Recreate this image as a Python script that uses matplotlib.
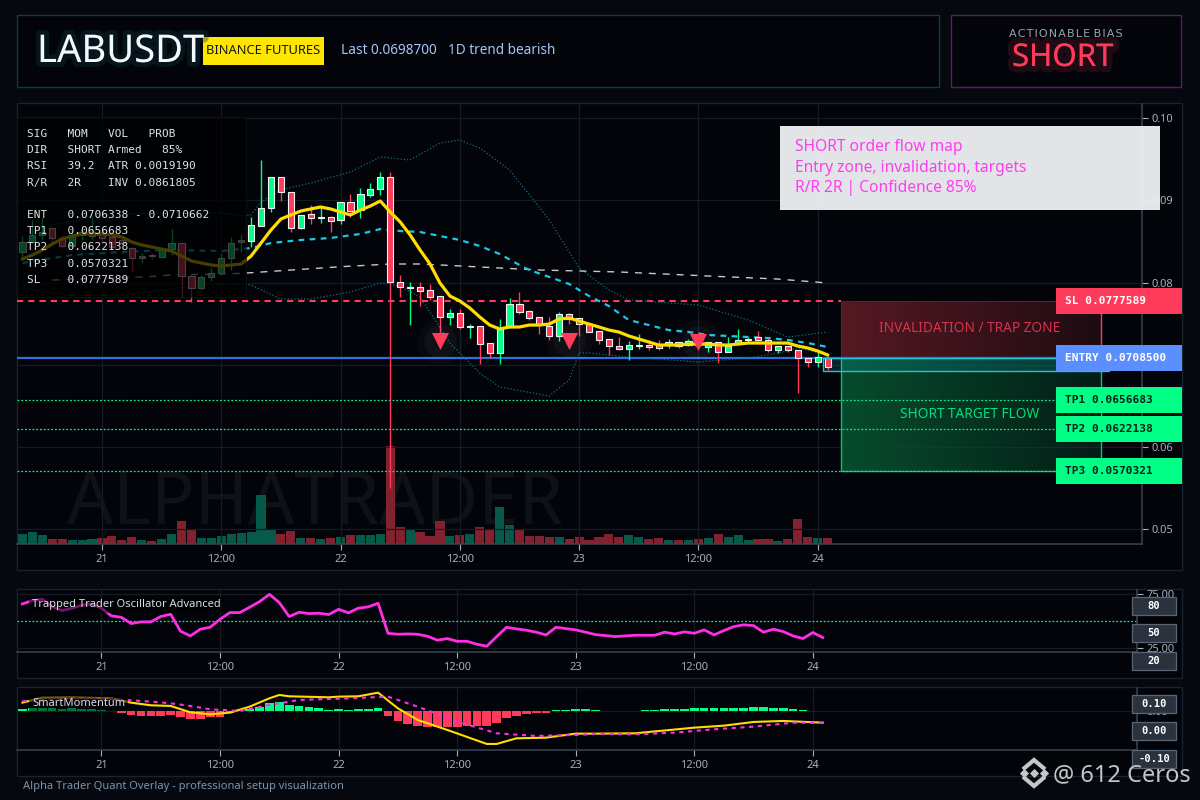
import numpy as np
import matplotlib
matplotlib.use("Agg")
import matplotlib.pyplot as plt
import matplotlib.patheffects as pe
from matplotlib.patches import Rectangle

# Hourly candles, one value per bar
opens = [.08371,.08492,.08578,.08663,.08541,.08444,.08578,.08565,.08590,.08553,
         .08517,.08419,.08298,.08334,.08310,.08407,.08480,.08079,.07933,.08067,
         .08116,.08298,.08492,.08505,.08687,.08906,.09283,.09100,.08663,.08833,
         .08784,.08796,.08760,.08979,.08881,.09064,.09137,.09283,.08006,.07933,
         .07945,.07909,.07836,.07581,.07629,.07459,.07471,.07264,.07143,.07471,
         .07739,.07654,.07581,.07471,.07350,.07617,.07568,.07495,.07410,.07313,
         .07228,.07192,.07228,.07240,.07240,.07240,.07277,.07240,.07277,.07216,
         .07277,.07155,.07252,.07301,.07337,.07301,.07179,.07228,.07179,.07082,
         .07034,.07082]
highs = [.08565,.08760,.08784,.08675,.08578,.08687,.08687,.08796,.08663,.08602,
         .08578,.08432,.08359,.08359,.08419,.08650,.08480,.08116,.08091,.08176,
         .08359,.08553,.08590,.08796,.09489,.09283,.09283,.09100,.08821,.08942,
         .08918,.08809,.08979,.09076,.09149,.09210,.09343,.09343,.08091,.08006,
         .08006,.07982,.07836,.07678,.07678,.07495,.07471,.07264,.07556,.07812,
         .07885,.07666,.07581,.07581,.07641,.07629,.07568,.07495,.07410,.07313,
         .07337,.07289,.07374,.07301,.07301,.07313,.07277,.07313,.07301,.07277,
         .07277,.07337,.07435,.07337,.07410,.07325,.07228,.07228,.07179,.07082,
         .07155,.07082]
lows = [.08310,.08480,.08517,.08492,.08419,.08419,.08517,.08517,.08492,.08419,
        .08432,.08140,.08237,.08286,.08310,.08334,.07824,.07763,.07909,.08018,
        .08091,.08152,.08371,.08432,.08687,.08857,.08991,.08614,.08650,.08711,
        .08723,.08614,.08711,.08796,.08784,.09040,.09064,.05502,.07824,.07483,
        .07714,.07787,.07386,.07483,.07435,.07325,.07009,.07082,.07009,.07447,
        .07617,.07544,.07374,.07301,.07289,.07495,.07350,.07398,.07252,.07119,
        .07179,.07058,.07192,.07179,.07179,.07204,.07204,.07228,.07216,.07155,
        .07021,.07155,.07240,.07264,.07277,.07155,.07143,.07155,.06657,.06973,
        .06973,.06936]
closes = [.08492,.08578,.08614,.08541,.08444,.08578,.08614,.08614,.08541,.08432,
          .08480,.08298,.08322,.08322,.08407,.08480,.08079,.07933,.08067,.08116,
          .08298,.08480,.08517,.08699,.08906,.09283,.09100,.08663,.08821,.08784,
          .08796,.08748,.08979,.08869,.09076,.09137,.09283,.08006,.07945,.07945,
          .07897,.07824,.07581,.07629,.07459,.07471,.07252,.07143,.07447,.07739,
          .07641,.07568,.07483,.07350,.07617,.07556,.07495,.07398,.07301,.07228,
          .07192,.07240,.07240,.07216,.07204,.07277,.07228,.07289,.07240,.07277,
          .07155,.07228,.07301,.07313,.07301,.07179,.07228,.07179,.07082,.07034,
          .07094,.06973]
volumes = [10.3,12.3,9.3,5.3,5.3,4.3,4.3,5.3,6.3,8.3,4.3,7.3,4.3,3.3,5.3,10.3,23.3,14.3,6.3,6.3,
           8.3,10.3,11.3,12.3,49.3,14.3,10.3,13.3,6.3,6.3,5.3,6.3,7.3,9.3,9.3,9.3,10.3,97.7,17.3,15.3,
           12.3,8.3,23.3,8.3,9.3,10.3,17.3,15.3,37.3,19.3,14.3,8.3,8.3,7.3,7.3,5.3,7.3,4.3,7.3,10.3,
           7.3,9.3,7.3,5.3,6.3,4.3,4.3,4.3,5.3,6.3,10.3,7.3,9.3,4.3,5.3,5.3,3.3,5.3,25.3,7.3,6.3,6.3]
ema = [.08286,.08334,.08395,.08468,.08529,.08565,.08590,.08590,.08590,.08578,
       .08553,.08492,.08456,.08432,.08407,.08383,.08322,.08261,.08237,.08213,
       .08201,.08213,.08225,.08322,.08480,.08638,.08772,.08821,.08869,.08894,
       .08918,.08894,.08857,.08821,.08881,.08930,.08991,.08857,.08736,.08578,
       .08395,.08225,.07994,.07836,.07775,.07690,.07581,.07483,.07435,.07459,
       .07459,.07483,.07483,.07495,.07556,.07568,.07532,.07495,.07459,.07422,
       .07398,.07350,.07313,.07277,.07240,.07240,.07240,.07252,.07252,.07252,
       .07240,.07240,.07252,.07264,.07264,.07264,.07264,.07264,.07228,.07204,
       .07167,.07119]

# Bands and slow average, read at the bars where they bend
bb_mid_idx = [0,5,10,15,20,22,23,25,28,31,34,36,37,38,40,42,44,46,48,50,51,53,55,57,59,61,63,65,67,69,71,73,75,77,79,81]
bb_mid = [.08237,.08334,.08371,.08395,.08383,.08407,.08419,.08480,.08517,.08541,.08590,.08650,.08638,.08626,
          .08614,.08565,.08517,.08444,.08347,.08213,.08152,.08067,.07982,.07836,.07714,.07544,.07483,.07422,
          .07398,.07362,.07350,.07337,.07325,.07301,.07264,.07216]
bb_up_idx = [1,3,8,14,20,22,23,24,26,29,33,36,39,42,44,46,49,53,56,59,61,68,73,77,81]
bb_up = [.08602,.08699,.08821,.08845,.08845,.08809,.08821,.08979,.09125,.09210,.09343,.09526,.09489,.09696,
         .09733,.09635,.09368,.08760,.08176,.07909,.07787,.07726,.07544,.07337,.07398]
bb_lo_idx = [0,5,10,15,19,23,26,29,33,36,38,40,43,46,48,53,55,56,57,61,68,73,76,78,81]
bb_lo = [.07933,.07836,.07848,.07921,.07982,.07970,.07799,.07799,.07885,.07994,.07957,.07824,.07264,.06900,
         .06730,.06620,.06815,.07143,.07143,.07094,.07034,.07082,.07143,.07204,.07119]
slow_idx = [3,12,15,22,23,32,37,40,44,52,60,69,76,81]
slow_ma = [.08030,.08067,.08091,.08111,.08119,.08192,.08225,.08225,.08201,.08152,.08128,.08079,.08042,.07994]

signal_idx = [42, 55, 68]
signal_price = [.07290, .07290, .07280]

# Levels
sl_price = 0.0777589
entry_price = 0.0708500
entry_low = 0.06924
tp_prices = [0.0656683, 0.0622138, 0.0570321]

# Oscillator
osc = [65.5,68.6,69.8,63.1,59.4,61.6,64.3,65.5,61.6,54.6,53.3,47.6,49.1,49.1,54.0,56.1,40.6,36.3,42.4,44.2,
       51.5,57.6,57.6,62.5,67.6,74.3,66.7,54.0,57.9,56.7,57.0,55.8,60.6,57.3,61.6,62.8,66.1,38.7,37.8,38.1,
       37.8,36.0,32.4,33.9,31.4,31.4,28.7,26.9,35.7,44.2,42.7,41.5,39.7,37.2,44.2,43.0,41.8,39.7,37.5,36.6,
       35.7,36.3,36.9,36.9,36.9,39.7,38.1,40.0,38.7,41.8,37.2,41.2,44.8,46.4,45.7,39.7,42.4,40.3,36.3,33.9,
       39.4,34.8]

# SmartMomentum
hist = [.0053,.0060,.0060,.0060,.0047,.0060,.0053,.0047,.0020,.0007,-.0027,-.0080,-.0087,-.0087,-.0087,-.0073,
        -.0120,-.0153,-.0153,-.0120,-.0107,-.0027,.0013,.0053,.0093,.0167,.0187,.0127,.0107,.0087,.0067,.0027,
        .0040,.0020,.0040,.0047,.0067,-.0087,-.0193,-.0253,-.0293,-.0307,-.0307,-.0313,-.0313,-.0300,-.0293,-.0287,
        -.0233,-.0133,-.0087,-.0053,-.0033,-.0033,.0020,.0027,.0040,.0040,.0033,.0013,.0007,.0007,.0007,.0020,
        .0027,.0040,.0047,.0047,.0067,.0067,.0067,.0067,.0067,.0067,.0087,.0087,.0067,.0060,.0040,.0027,.0007,.0]
mom_idx = [0,2,5,9,11,13,15,17,19,21,23,25,26,27,31,32,34,36,38,40,43,47,48,50,53,56,58,62,68,71,74,77,81]
mom = [.0173,.0273,.0280,.0260,.0173,.0120,.0107,-.0020,-.0060,-.0027,.0093,.0260,.0327,.0300,.0280,.0293,.0300,
       .0373,.0060,-.0173,-.0373,-.0653,-.0653,-.0540,-.0527,-.0447,-.0447,-.0440,-.0327,-.0287,-.0213,-.0193,-.0227]
mom_sig_idx = [0,5,9,13,15,17,19,22,25,28,33,37,40,44,48,52,56,58,62,66,70,74,78,81]
mom_sig = [.0200,.0267,.0247,.0193,.0160,.0107,.0040,.0007,.0127,.0227,.0260,.0293,.0093,-.0207,-.0440,-.0493,
           -.0473,-.0453,-.0460,-.0427,-.0360,-.0307,-.0227,-.0233]

# Axis ticks
x_tick_idx = [8, 20, 32, 44, 56, 68, 80]
x_tick_labels = ["21", "12:00", "22", "12:00", "23", "12:00", "24"]
price_ticks = [0.10, 0.09, 0.08, 0.07, 0.06, 0.05]

panel_lines = ["SIG   MOM   VOL   PROB",
               "DIR   SHORT Armed   85%",
               "RSI   39.2  ATR 0.0019190",
               "R/R   2R    INV 0.0861805",
               "",
               "ENT   0.0706338 - 0.0710662",
               "TP1   0.0656683",
               "TP2   0.0622138",
               "TP3   0.0570321",
               "SL    0.0777589"]
tag_names = ["SL", "ENTRY", "TP1", "TP2", "TP3"]
note_lines = ["SHORT order flow map", "Entry zone, invalidation, targets", "R/R 2R | Confidence 85%"]

GREEN = "#00ff85"
RED = "#ff3b5c"
BLUE = "#5b8eff"
YELLOW = "#ffdd00"
MAGENTA = "#ff2ee6"
GRID = "#141b22"
SPINE = "#3a4654"
TICK = "#a6afba"
BG = "#05080e"
INNER = "#02040a"
SANS = "Noto Sans"
MONO = "DejaVu Sans Mono"

plt.rcParams["font.family"] = SANS
fig = plt.figure(figsize=(12, 8), dpi=100, facecolor=BG)


def px_axes(left, top, right, bottom, **kw):
    return fig.add_axes([left / 1200, 1 - bottom / 800, (right - left) / 1200, (bottom - top) / 800], **kw)


def overlay(z):
    a = px_axes(0, 0, 1200, 800, zorder=z)
    a.set_xlim(0, 1200)
    a.set_ylim(800, 0)
    a.axis("off")
    return a


def box(a, x0, y0, x1, y1, **kw):
    a.add_patch(Rectangle((x0, y0), x1 - x0, y1 - y0, **kw))


def style_axes(a, tick_idx, tick_labels):
    a.set_facecolor("none")
    a.set_xticks(tick_idx)
    a.set_xticklabels(tick_labels)
    a.grid(True, color=GRID, lw=0.9)
    a.set_axisbelow(True)
    a.yaxis.tick_right()
    a.tick_params(colors=TICK, labelsize=8, length=4, width=0.8, pad=3)
    for s in ["top", "left"]:
        a.spines[s].set_visible(False)
    for s in ["right", "bottom"]:
        a.spines[s].set_color(SPINE)
        a.spines[s].set_linewidth(1.1)


# ---------------------------------------------------------
# Background frames
# ---------------------------------------------------------
bg = overlay(0)
box(bg, 17, 15, 939, 87, fc=INNER, ec="#0d3c49", lw=1)
box(bg, 951, 15, 1181, 87, fc=INNER, ec="#5d1a68", lw=1)
box(bg, 17, 103, 1182, 570, fc=INNER, ec="#18232d", lw=1)
box(bg, 17, 589, 1182, 678, fc=INNER, ec="#18232d", lw=1)
box(bg, 17, 687, 1182, 776, fc=INNER, ec="#18232d", lw=1)

# ---------------------------------------------------------
# Main chart
# ---------------------------------------------------------
n = len(closes)
bars = np.arange(n)
bar_up = np.array(closes) >= np.array(opens)

ax_vol = px_axes(17, 104, 1142, 544, zorder=1)
ax_vol.set_xlim(-0.55, 112.63)
ax_vol.set_ylim(0, 440)
ax_vol.axis("off")
ax_vol.text(45 / 10, 2, "ALPHATRADER", fontsize=52, fontweight="bold", color="#0e1116", va="bottom", ha="left", zorder=0)
ax_vol.bar(bars, volumes, width=0.92, color=["#07594a" if u else "#82212f" for u in bar_up], zorder=1)

ax = px_axes(17, 104, 1142, 544, zorder=2)
style_axes(ax, x_tick_idx, x_tick_labels)
ax.set_yticks(price_ticks)
ax.set_yticklabels([f"{p:.2f}" for p in price_ticks])

# Zones on the right
zone_x0, zone_x1 = 82.35, 108.55
fade = np.linspace(1, 0.35, 200)
red_rgba = np.zeros((1, 200, 4))
red_rgba[..., :3] = [0.34, 0.10, 0.14]
red_rgba[..., 3] = fade
green_rgba = np.zeros((1, 200, 4))
green_rgba[..., :3] = [0.03, 0.30, 0.18]
green_rgba[..., 3] = fade
ax.imshow(red_rgba, extent=[zone_x0, zone_x1, entry_price, sl_price], aspect="auto", zorder=1)
ax.imshow(green_rgba, extent=[zone_x0, zone_x1, tp_prices[2], entry_price], aspect="auto", zorder=1)
ax.plot([zone_x0, zone_x0, zone_x1], [entry_price, tp_prices[2], tp_prices[2]], color="#00c870", lw=1, zorder=2)
ax.plot([zone_x1, zone_x1], [entry_price, tp_prices[2]], color="#00c870", lw=1, zorder=2)
ax.plot([zone_x1, zone_x1], [entry_price, sl_price], color=RED, lw=1, zorder=2)
ax.plot([zone_x0, zone_x0, zone_x1], [entry_price, sl_price, sl_price], color="#5e1f2b", lw=0.8, zorder=2)
ax.add_patch(Rectangle((80.55, entry_low), 109.3 - 80.55, entry_price - entry_low, fc="#16c8dc", alpha=0.16, zorder=2))
ax.add_patch(Rectangle((80.55, entry_low), 109.3 - 80.55, entry_price - entry_low, fc="none", ec="#16c8dc", lw=1, zorder=6))

# Levels
ax.plot([-0.55, zone_x0], [sl_price, sl_price], color=RED, lw=1.5, dashes=(3, 2.4), zorder=3)
ax.plot([-0.55, 104], [entry_price, entry_price], color="#2f6fe0", lw=1.6, zorder=3)
for tp in tp_prices:
    ax.plot([-0.55, 104], [tp, tp], color="#18e88a", lw=0.9, dashes=(1.5, 1.5), zorder=3)

# Bands
ax.plot(bb_up_idx, bb_up, color="#0f6f80", lw=0.9, ls=(0, (1, 1.6)), zorder=3)
ax.plot(bb_lo_idx, bb_lo, color="#0f6f80", lw=0.9, ls=(0, (1, 1.6)), zorder=3)
ax.plot(slow_idx, slow_ma, color="#c8c8c8", lw=1, dashes=(5, 5), zorder=3)
ax.plot(bb_mid_idx, bb_mid, color="#19c8e6", lw=1.6, dashes=(2.6, 2.4), zorder=3)

# Candles
candle_colors = [GREEN if u else RED for u in bar_up]
ax.vlines(bars, lows, highs, colors=candle_colors, lw=1, zorder=4)
ax.bar(bars, np.array(closes) - np.array(opens), bottom=opens, width=0.62, color=candle_colors,
       edgecolor="#f2f2f2", linewidth=0.8, zorder=5)
ax.plot(bars, ema, color=YELLOW, lw=2.3, zorder=6)

# Sell signals with a faint glow
ax.scatter(signal_idx, signal_price, s=1100, color="white", alpha=0.025, lw=0, zorder=6)
ax.scatter(signal_idx, signal_price, s=550, color="white", alpha=0.035, lw=0, zorder=6)
ax.scatter(signal_idx, signal_price, s=150, marker="v", color=RED, lw=0, zorder=7)

ax.set_xlim(-0.55, 112.63)
ax.set_ylim(0.04821, 0.10170)


def ypx(price):
    return 104 + (0.10170 - price) / (0.10170 - 0.04821) * 440


# ---------------------------------------------------------
# Oscillator
# ---------------------------------------------------------
ax_osc = px_axes(17, 590, 1136.5, 652.3, zorder=2)
style_axes(ax_osc, x_tick_idx, x_tick_labels)
ax_osc.set_yticks([75, 25])
ax_osc.set_yticklabels(["75.00", "25.00"])
ax_osc.axhline(50, color="#18e88a", lw=0.9, dashes=(1.5, 1.5), zorder=1)
ax_osc.plot(bars, osc, color=MAGENTA, lw=2, zorder=3)
ax_osc.set_xlim(-0.55, 112.76)
ax_osc.set_ylim(21.35, 78.2)

# ---------------------------------------------------------
# SmartMomentum
# ---------------------------------------------------------
ax_mom = px_axes(17, 688, 1136.5, 750, zorder=2)
style_axes(ax_mom, x_tick_idx, x_tick_labels)
ax_mom.set_yticks([0])
ax_mom.set_yticklabels(["0.00"])
ax_mom.bar(bars, hist, width=0.88, color=[GREEN if h >= 0 else RED for h in hist], zorder=2)
ax_mom.plot(mom_idx, mom, color=YELLOW, lw=1.5, zorder=3)
ax_mom.plot(mom_sig_idx, mom_sig, color=MAGENTA, lw=1.5, dashes=(2, 2.2), zorder=4)
ax_mom.set_xlim(-0.55, 112.76)
ax_mom.set_ylim(-0.0774, 0.0466)

# ---------------------------------------------------------
# Everything that sits on top of the charts
# ---------------------------------------------------------
fg = overlay(10)

# Header
fg.text(37, 52, "LABUSDT", fontsize=27.5, fontweight="bold", color="#f4f7fb", va="center", ha="left",
        path_effects=[pe.withStroke(linewidth=7, foreground="#10333c", alpha=0.35)])
box(fg, 203, 37, 324, 65, fc="#ffe600", ec="none")
fg.text(263.5, 51, "BINANCE FUTURES", fontsize=9.3, fontweight="medium", color="#141414", va="center", ha="center")
fg.text(341, 51, "Last 0.0698700", fontsize=9.8, fontweight="medium", color="#a5c5f5", va="center", ha="left")
fg.text(448, 51, "1D trend bearish", fontsize=9.8, fontweight="medium", color="#a5c5f5", va="center", ha="left")
fg.text(1066, 34, "A C T I O N A B L E  B I A S".replace(" ", "\u200a").replace("\u200a\u200a", " "), fontsize=8,
        fontweight="medium", color="#9aa3b0", va="center", ha="center", family=["DejaVu Sans"])
fg.text(1012, 58, "SHORT", fontsize=22.5, fontweight="medium", color=RED, va="center", ha="left",
        path_effects=[pe.withStroke(linewidth=9, foreground=RED, alpha=0.12), pe.Normal()])

# Stats panel over the chart
box(fg, 17, 117, 246, 296.5, fc="#000000", ec="#10161c", lw=0.8, alpha=0.72)
for i, line in enumerate(panel_lines):
    fg.text(27, 134 + i * 16.2, line, fontsize=8, family=MONO, color="#dfe3e8", va="center", ha="left")

# Note box
box(fg, 780, 126, 1160, 210, fc="#eeeff2", ec="none", alpha=0.96)
for i, line in enumerate(note_lines):
    fg.text(795, 147 + i * 20.5, line, fontsize=11.2, fontweight="medium", color="#ff3df0", va="center", ha="left")

# Zone captions
fg.text(970, 329, "INVALIDATION / TRAP ZONE", fontsize=9.8, color="#d8324c", va="center", ha="center")
fg.text(970, 414, "SHORT TARGET FLOW", fontsize=9.8, fontweight="bold", color="#00e07a", va="center", ha="center")

# Price tags
tag_prices = [sl_price, entry_price] + tp_prices
tag_colors = [RED, BLUE, GREEN, GREEN, GREEN]
tag_text = ["white", "white", "#06211a", "#06211a", "#06211a"]
for name, price, col, tcol in zip(tag_names, tag_prices, tag_colors, tag_text):
    yc = ypx(price)
    box(fg, 1056, yc - 13, 1182, yc + 13, fc=col, ec="none")
    fg.text(1065, yc, f"{name} {price:.7f}", fontsize=8, fontweight="bold", family=MONO, color=tcol, va="center", ha="left")

# Value badges on the lower panels
badge_text = ["80", "50", "20", "0.10", "0.00", "-0.10"]
badge_top = [597.3, 624.3, 652.3, 695.3, 722.3, 750.3]
for t, top in zip(badge_text, badge_top):
    box(fg, 1132.3, top, 1176, top + 18, fc="#2a323e", ec="#5a6472", lw=0.9)
    fg.text(1154, top + 9, t, fontsize=7.6, fontweight="bold", family=MONO, color="white", va="center", ha="center")

# Indicator captions
fg.text(32, 605, "Trapped Trader Oscillator Advanced", fontsize=8, fontweight="medium", color="#d8dde3", va="center", ha="left",
        bbox=dict(fc="#000000", ec="none", alpha=0.55, pad=2))
fg.text(32, 703, "SmartMomentum", fontsize=8, fontweight="medium", color="#d8dde3", va="center", ha="left",
        bbox=dict(fc="#000000", ec="none", alpha=0.55, pad=2))

# Footer
fg.text(23, 787, "Alpha Trader Quant Overlay - professional setup visualization", fontsize=8, color="#7f93a8", va="center", ha="left")

# Watermark
fg.text(1053, 775, "@ 612 Ceros", fontsize=17, color="#c4c6c8", va="center", ha="left")
fg.scatter([1024, 1044, 1034], [773, 773, 773], s=22, marker="D", color="#c4c6c8", lw=0)
fg.plot([1024.5, 1034, 1043.5], [768, 760, 768], color="#c4c6c8", lw=3, solid_joinstyle="miter")
fg.plot([1024.5, 1034, 1043.5], [778, 786, 778], color="#c4c6c8", lw=3, solid_joinstyle="miter")

fig.savefig("out.png", dpi=100, facecolor=BG)
